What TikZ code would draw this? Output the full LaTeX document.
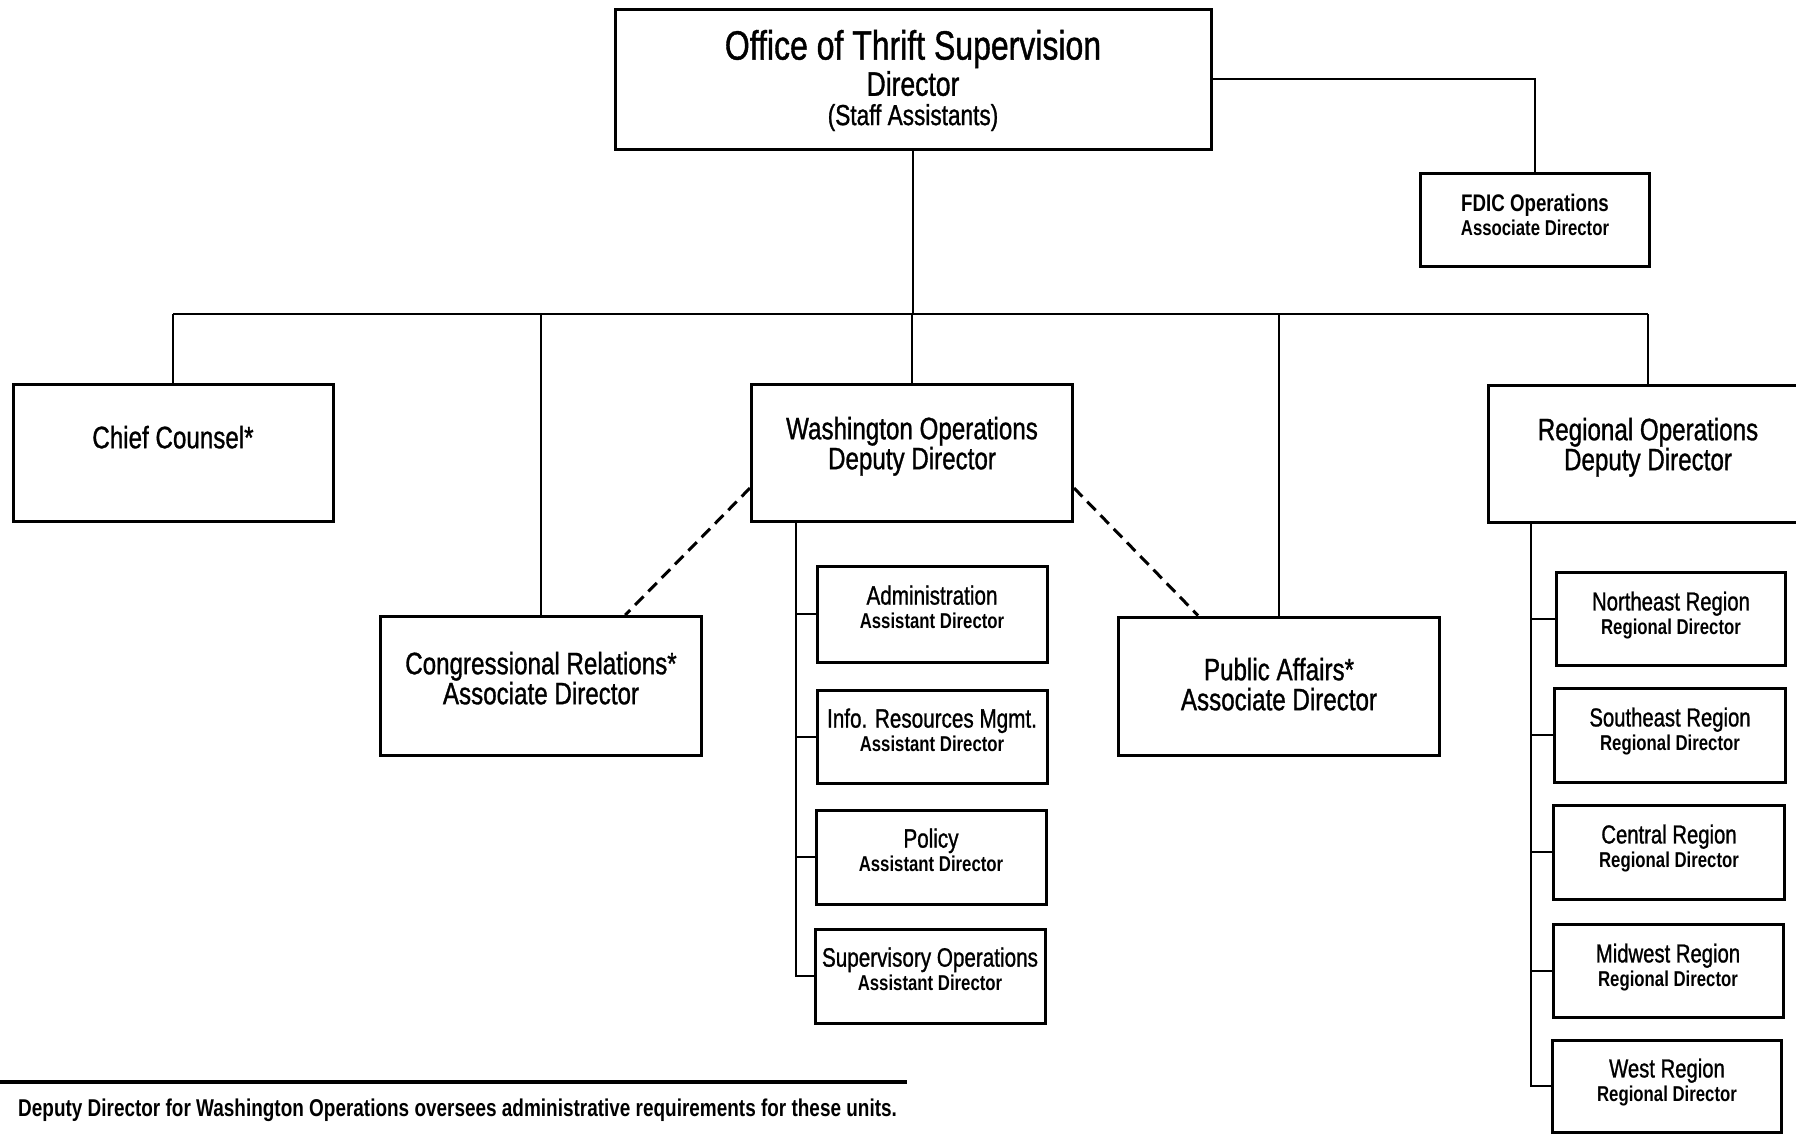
\documentclass[tikz,border=0pt]{standalone}
\usepackage{fontspec}
\setmainfont{Liberation Sans}[FakeStretch=0.78,UprightFeatures={FakeBold=1}]
\usetikzlibrary{positioning,calc}
\newcommand\subline[1]{{\bfseries\fontsize{21.5}{22}\selectfont #1}}

\begin{document}
\begin{tikzpicture}[x=1pt,y=-1pt]
\tikzset{box/.style={draw,line width=3pt,align=center,inner sep=0pt},
bigbox/.style={box,minimum width=321pt,minimum height=137pt,font=\fontsize{31}{30}\selectfont},
subbox/.style={box,minimum width=230pt,minimum height=93pt,font=\fontsize{26.5}{24}\selectfont,text depth=14pt},
regbox/.style={subbox,font=\fontsize{26}{24}\selectfont,text depth=12pt},
link/.style={line width=2.6pt},
dashlink/.style={line width=3pt,dash pattern=on 12pt off 7pt}}
\useasboundingbox (0,0) rectangle (1796,1133);
\fill[white] (0,0) rectangle (1796,1133);

%\node(top) at (913,20) {};
\node[box,minimum width=596pt,minimum height=140pt,text depth=3pt] (ots) at (913,79) {{\fontsize{41}{34}\selectfont Office of Thrift Supervision}\\[2pt]{\fontsize{34}{32}\selectfont Director}\\[7pt]{\fontsize{29}{28}\selectfont (Staff Assistants)}};
\node[box,minimum width=229pt,minimum height=93pt,text depth=10pt] (fdic) at (1535,220) {{\bfseries\fontsize{24}{22}\selectfont FDIC Operations}\\[3pt]\subline{Associate Director}};

\node[bigbox,minimum width=320pt,text depth=32pt] (chief) at (173,453) {Chief Counsel*};
\node[bigbox,text depth=20pt] (wash) at (912,453) {Washington Operations\\Deputy Director};
\node[bigbox,minimum width=320pt,text depth=20pt] (regional) at (1648,454) {Regional Operations\\Deputy Director};
\node[bigbox,minimum height=139pt,text depth=16pt] (congr) at (541,686) {Congressional Relations*\\Associate Director};
\node[bigbox,minimum height=138pt,text depth=4pt] (public) at (1279,686) {Public Affairs*\\Associate Director};

% washington units
\node[subbox,minimum height=96pt] (admin) at (932,614) {Administration\\\subline{Assistant Director}};
\node[subbox] (info) at (932,737) {Info. Resources Mgmt.\\\subline{Assistant Director}};
\node[subbox,minimum height=94pt] (policy) at (931,857) {Policy\\\subline{Assistant Director}};
\node[subbox,minimum height=94pt] (superv) at (930,976) {Supervisory Operations\\\subline{Assistant Director}};

% regions
\node[regbox,minimum width=229pt] (northeast) at (1671,619) {Northeast Region\\\subline{Regional Director}};
\node[regbox,minimum width=231pt,minimum height=94pt] (southeast) at (1670,735) {Southeast Region\\\subline{Regional Director}};
\node[regbox,minimum width=231pt,minimum height=94pt] (central) at (1669,852) {Central Region\\\subline{Regional Director}};
\node[regbox] (midwest) at (1668,971) {Midwest Region\\\subline{Regional Director}};
\node[regbox,minimum width=229pt,minimum height=92pt] (west) at (1667,1086) {West Region\\\subline{Regional Director}};

\coordinate (bus) at (0,314);
\draw[link] (ots.south) -- (ots.south |- bus);
\draw[link] (chief.north |- bus) -- (regional.north |- bus);
\foreach \n in {chief,congr,wash,public,regional}
  \draw[link] (\n.north |- bus) -- (\n.north);
\draw[link] (ots.east) -| (fdic.north);

\draw[dashlink] ($(wash.south west)!0.25!(wash.north west)$) -- ($(congr.north west)!0.76!(congr.north east)$);
\draw[dashlink] ($(wash.south east)!0.25!(wash.north east)$) -- ($(public.north west)!0.25!(public.north east)$);

\coordinate (wspine) at (796,0);
\draw[link] (wspine |- wash.south) |- (superv.west);
\foreach \n in {admin,info,policy}
  \draw[link] (wspine |- \n.west) -- (\n.west);

\coordinate (rspine) at (1531,0);
\draw[link] (rspine |- regional.south) |- (west.west);
\foreach \n in {northeast,southeast,central,midwest}
  \draw[link] (rspine |- \n.west) -- (\n.west);

% footnote
\coordinate (ruleL) at (0,1082);
\coordinate (ruleR) at (907,1082);
\draw[line width=3.4pt] (ruleL) -- (ruleR);
\node[anchor=west,inner sep=0pt,font=\bfseries\fontsize{24.3}{26}\selectfont] (note) at (18,1110) {Deputy Director for Washington Operations oversees administrative requirements for these units.};
\end{tikzpicture}
\end{document}
